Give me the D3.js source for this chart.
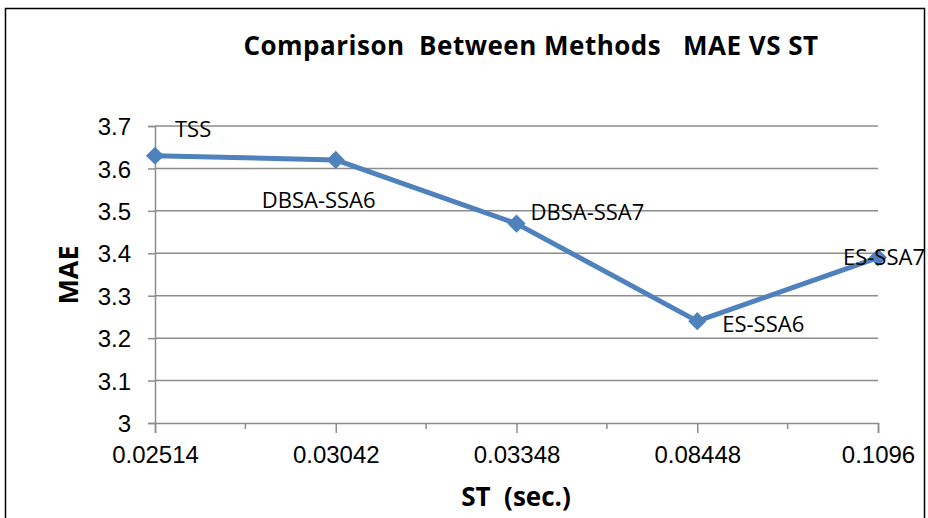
<!DOCTYPE html>
<html>
<head>
<meta charset="utf-8">
<script src="https://cdn.jsdelivr.net/npm/d3@7"></script>
<style>
  body { margin: 0; background: #fff; }
  #canvas { width: 928px; height: 518px; }
</style>
</head>
<body>
<div id="canvas" class="canvas"></div>
<script>
//---- ---- DATA ---- ----
var categories = ['0.02514', '0.03042', '0.03348', '0.08448', '0.1096'];
var maeValues = [3.63, 3.62, 3.47, 3.24, 3.39];
var pointLabels = ['TSS', 'DBSA-SSA6', 'DBSA-SSA7', 'ES-SSA6', 'ES-SSA7'];
var yTicks = [3, 3.1, 3.2, 3.3, 3.4, 3.5, 3.6, 3.7];

//---- ---- MARGIN CONVENTION ---- ----
var outerWidth = 928, outerHeight = 518;
var m = {t:126, r:50, b:95, l:155};
var w = 878 - m.l,
    h = 423 - m.t;

var svg = d3.select('.canvas')
    .append('svg')
    .attr('width', outerWidth)
    .attr('height', outerHeight);

// outer frame
svg.append('rect')
    .attr('x', 5.5).attr('y', 8.5)
    .attr('width', 919).attr('height', 520)
    .attr('fill', 'none')
    .attr('stroke', '#000')
    .attr('stroke-width', 1.5);

var plot = svg.append('g')
    .attr('transform', 'translate(' + m.l + ',' + m.t + ')');

//---- ---- SCALES ---- ----
var scaleX = d3.scalePoint()
    .domain(categories)
    .range([0, w]);

var scaleY = d3.scaleLinear()
    .domain([3, 3.7])
    .range([h, 0]);

//---- ---- GRID ---- ----
plot.append('g').selectAll('line')
    .data(yTicks.slice(1))
    .enter()
    .append('line')
    .attr('x1', 0).attr('x2', w)
    .attr('y1', function(d){ return scaleY(d); })
    .attr('y2', function(d){ return scaleY(d); })
    .attr('stroke', '#8c8c8c')
    .attr('stroke-width', 1.5);

//---- ---- AXES ---- ----
var axisY = d3.axisLeft(scaleY)
    .tickValues(yTicks)
    .tickFormat(function(d){ return d === 3 ? '3' : d3.format('.1f')(d); })
    .tickSize(7)
    .tickPadding(17);

var gy = plot.append('g').attr('class', 'axis axis-y').call(axisY);

var axisX = d3.axisBottom(scaleX)
    .tickSize(10)
    .tickPadding(13);

var gx = plot.append('g').attr('class', 'axis axis-x')
    .attr('transform', 'translate(0,' + h + ')')
    .call(axisX);

// minor ticks between categories
var step = scaleX.step();
gx.selectAll('.minor')
    .data(categories.slice(1))
    .enter()
    .append('line')
    .attr('class', 'minor')
    .attr('x1', function(d){ return scaleX(d) - step / 2; })
    .attr('x2', function(d){ return scaleX(d) - step / 2; })
    .attr('y1', 0).attr('y2', 6)
    .attr('stroke', '#8c8c8c')
    .attr('stroke-width', 1.5);

[gx, gy].forEach(function(g){
  g.select('.domain').attr('stroke', '#8c8c8c').attr('stroke-width', 1.5);
  g.selectAll('.tick line').attr('stroke', '#8c8c8c').attr('stroke-width', 1.5);
  g.selectAll('.tick text')
    .attr('fill', '#000')
    .style('font-family', '"Liberation Sans", Arial, sans-serif')
    .style('font-size', '24px');
});
gy.selectAll('.tick text').attr('dy', '0.36em');

//---- ---- LINE ---- ----
var pts = categories.map(function(c, i){ return {cat: c, v: maeValues[i], label: pointLabels[i]}; });

var line = d3.line()
    .x(function(d){ return scaleX(d.cat); })
    .y(function(d){ return scaleY(d.v); });

plot.append('path')
    .datum(pts)
    .attr('d', line)
    .attr('fill', 'none')
    .attr('stroke', '#4f81bd')
    .attr('stroke-width', 5)
    .attr('stroke-linejoin', 'round');

plot.selectAll('.marker')
    .data(pts)
    .enter()
    .append('path')
    .attr('class', 'marker')
    .attr('d', d3.symbol().type(d3.symbolDiamond2).size(210))
    .attr('transform', function(d){ return 'translate(' + scaleX(d.cat) + ',' + scaleY(d.v) + ')'; })
    .attr('fill', '#4f81bd');

//---- ---- POINT LABELS ---- ----
var labelOffsets = [[20, -27], [-74, 40], [14, -12], [25, 3], [-35, 0]];
plot.selectAll('.plabel')
    .data(pts)
    .enter()
    .append('text')
    .attr('class', 'plabel')
    .attr('x', function(d, i){ return scaleX(d.cat) + labelOffsets[i][0]; })
    .attr('y', function(d, i){ return scaleY(d.v) + labelOffsets[i][1]; })
    .attr('dy', '0.36em')
    .style('font-family', '"Open Sans", sans-serif')
    .style('font-size', '22px')
    .text(function(d){ return d.label; });

//---- ---- TITLES ---- ----
svg.append('text')
    .attr('x', 531).attr('y', 46)
    .attr('text-anchor', 'middle')
    .attr('dy', '0.36em')
    .style('font-family', '"Open Sans", sans-serif')
    .style('font-weight', 'bold')
    .style('font-size', '26px')
    .style('letter-spacing', '0.5px')
    .style('white-space', 'pre')
    .text('Comparison  Between Methods   MAE VS ST');

svg.append('text')
    .attr('transform', 'translate(68,275) rotate(-90)')
    .attr('text-anchor', 'middle')
    .attr('dy', '0.36em')
    .style('font-family', '"Open Sans", sans-serif')
    .style('font-weight', 'bold')
    .style('font-size', '27px')
    .text('MAE');

svg.append('text')
    .attr('x', 516).attr('y', 497)
    .attr('text-anchor', 'middle')
    .attr('dy', '0.36em')
    .style('font-family', '"Open Sans", sans-serif')
    .style('font-weight', 'bold')
    .style('font-size', '26px')
    .style('white-space', 'pre')
    .text('ST  (sec.)');
</script>
</body>
</html>
